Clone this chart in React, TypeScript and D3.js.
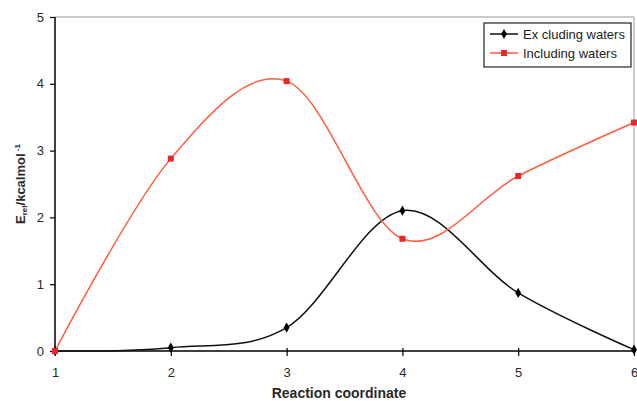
import { useEffect, useRef } from 'react';
import * as d3 from 'd3';

const steps = [1, 2, 3, 4, 5, 6];
const excludingWaters = [0, 0.05, 0.35, 2.1, 0.87, 0.02];
const includingWaters = [0, 2.88, 4.04, 1.68, 2.62, 3.42];
const yTicks = [0, 1, 2, 3, 4, 5];

const W = 637;
const H = 401;
const FONT = '"Liberation Sans", Arial, sans-serif';

const App = () => {
  const svgRef = useRef<SVGSVGElement>(null);

  useEffect(() => {
    const svg = d3.select(svgRef.current);
    svg.selectAll('*').remove();

    const x = d3.scaleLinear().domain([1, 6]).range([55, 634]);
    const y = d3.scaleLinear().domain([0, 5]).range([351, 17]);

    // plot frame: grey top/right, black axes
    svg.append('path')
      .attr('d', `M${x(1)},${y(5)}H${x(6)}V${y(0)}`)
      .attr('fill', 'none')
      .attr('stroke', '#9a9a9a')
      .attr('stroke-width', 1);

    const yAxis = svg.append('g').attr('transform', `translate(${x(1)},0)`)
      .call(d3.axisLeft(y).tickValues(yTicks).tickSize(5).tickFormat(d3.format('d')));
    const xAxis = svg.append('g').attr('transform', `translate(0,${y(0)})`)
      .call(d3.axisBottom(x).tickValues(steps).tickSize(5).tickFormat(d3.format('d')));

    [yAxis, xAxis].forEach(g => {
      g.select('.domain').attr('stroke', '#000').attr('stroke-width', 1.5);
      g.selectAll('.tick line').attr('stroke', '#000').attr('stroke-width', 1.2);
      g.selectAll('.tick text')
        .attr('font-family', FONT)
        .attr('font-size', 13)
        .attr('fill', '#2a2a2a');
    });
    yAxis.select('.domain').attr('d', `M0,${y(0)}V${y(5)}`);
    xAxis.select('.domain').attr('d', `M${x(1)},0H${x(6)}`);
    yAxis.selectAll('.tick text').attr('x', -11);
    xAxis.selectAll('.tick line').attr('y1', -3);
    xAxis.selectAll('.tick text').attr('y', 17);

    const line = (vals: number[]) => d3.line<number>()
      .x((_, i) => x(steps[i]))
      .y(d => y(d))
      .curve(d3.curveCardinal.tension(0))(vals);

    svg.append('path')
      .attr('d', line(excludingWaters))
      .attr('fill', 'none')
      .attr('stroke', '#111')
      .attr('stroke-width', 1.5);

    svg.append('path')
      .attr('d', line(includingWaters))
      .attr('fill', 'none')
      .attr('stroke', '#ff5b3e')
      .attr('stroke-width', 1.5);

    const diamond = d3.symbol().type(d3.symbolDiamond).size(30);

    svg.append('g').selectAll('path')
      .data(excludingWaters)
      .join('path')
      .attr('d', diamond)
      .attr('transform', (d, i) => `translate(${x(steps[i])},${y(d)})`)
      .attr('fill', '#000');

    svg.append('g').selectAll('rect')
      .data(includingWaters)
      .join('rect')
      .attr('x', (d, i) => x(steps[i]) - 3)
      .attr('y', d => y(d) - 3)
      .attr('width', 6)
      .attr('height', 6)
      .attr('fill', '#e8262c');

    // legend
    const lg = svg.append('g').attr('transform', 'translate(484,23)');
    lg.append('rect')
      .attr('width', 147).attr('height', 44)
      .attr('fill', '#fff').attr('stroke', '#222').attr('stroke-width', 1.2);
    const items = [
      { label: 'Ex cluding waters', color: '#111', mark: 'diamond' },
      { label: 'Including waters', color: '#ff5b3e', mark: 'square' }
    ];
    items.forEach((it, i) => {
      const cy = 11 + i * 19;
      lg.append('line')
        .attr('x1', 6).attr('x2', 34).attr('y1', cy).attr('y2', cy)
        .attr('stroke', it.color).attr('stroke-width', 1.5);
      if (it.mark === 'diamond') {
        lg.append('path').attr('d', diamond).attr('transform', `translate(20,${cy})`).attr('fill', '#000');
      } else {
        lg.append('rect').attr('x', 17).attr('y', cy - 3).attr('width', 6).attr('height', 6).attr('fill', '#e8262c');
      }
      lg.append('text')
        .attr('x', 39).attr('y', cy).attr('dy', '0.35em')
        .attr('font-family', FONT).attr('font-size', 13).attr('fill', '#222')
        .text(it.label);
    });

    // axis titles
    svg.append('text')
      .attr('x', 339).attr('y', 398)
      .attr('text-anchor', 'middle')
      .attr('font-family', FONT).attr('font-size', 14).attr('font-weight', 'bold').attr('fill', '#2a2a2a')
      .text('Reaction coordinate');

    const yt = svg.append('text')
      .attr('transform', 'translate(25,184) rotate(-90)')
      .attr('text-anchor', 'middle')
      .attr('font-family', FONT).attr('font-size', 13).attr('font-weight', 'bold').attr('fill', '#2a2a2a');
    yt.append('tspan').text('E');
    yt.append('tspan').attr('font-size', 8).attr('dy', 2).text('rel');
    yt.append('tspan').attr('dy', -2).text('/kcalmol');
    yt.append('tspan').attr('font-size', 8).attr('dy', -5).text(' -1');
  }, []);

  return (
    <div style={{ position: 'absolute', left: 0, top: 0, width: W, height: H, background: '#fff' }}>
      <svg ref={svgRef} width={W} height={H} style={{ display: 'block' }} />
    </div>
  );
};

export default App;
